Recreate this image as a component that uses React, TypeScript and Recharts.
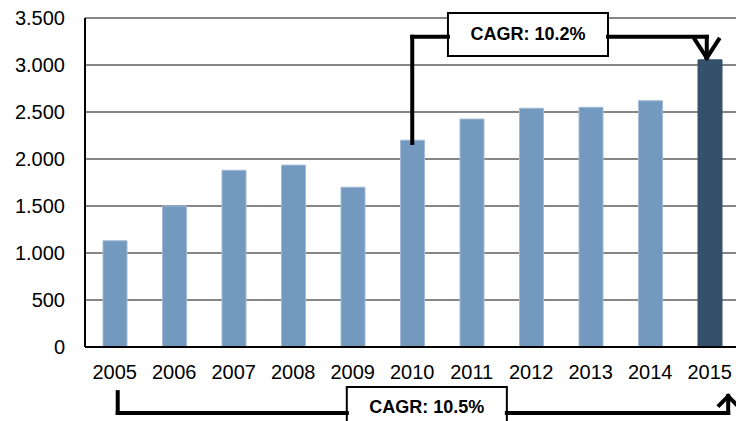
import {
  Bar,
  BarChart,
  CartesianGrid,
  Cell,
  ReferenceArea,
  ReferenceLine,
  XAxis,
  YAxis,
} from 'recharts';

// Jahreswerte 2005–2015, letzter Balken hervorgehoben, mit zwei CAGR-Klammern.

const years = [2005, 2006, 2007, 2008, 2009, 2010, 2011, 2012, 2013, 2014, 2015];
const values = [1130, 1500, 1880, 1935, 1700, 2200, 2425, 2540, 2550, 2620, 3055];
const yTicks = [0, 500, 1000, 1500, 2000, 2500, 3000, 3500];

const cagrShort = 'CAGR: 10.2%';
const cagrLong = 'CAGR: 10.5%';

const LIGHT = '#7399BF';
const DARK = '#34506B';
const FONT = '"Liberation Sans", Arial, sans-serif';

const data = years.map((year, i) => ({ year, value: values[i] }));

// Klammern in Datenkoordinaten (x = Jahr, y = Wert)
type Pt = { x: number; y: number };
const topBracketLeft: Pt[] = [
  { x: 2010, y: 2170 },
  { x: 2010, y: 3300 },
  { x: 2010.6, y: 3300 },
];
const topBracketRight: Pt[] = [
  { x: 2013.29, y: 3300 },
  { x: 2014.95, y: 3300 },
  { x: 2014.95, y: 3080 },
];
const topArrow: Pt[] = [
  { x: 2014.75, y: 3270 },
  { x: 2014.95, y: 3075 },
  { x: 2015.15, y: 3270 },
];
const bottomBracketLeft: Pt[] = [
  { x: 2005.05, y: -480 },
  { x: 2005.05, y: -702 },
  { x: 2008.9, y: -702 },
];
const bottomBracketRight: Pt[] = [
  { x: 2011.59, y: -702 },
  { x: 2015.31, y: -702 },
  { x: 2015.31, y: -520 },
];
const bottomArrow: Pt[] = [
  { x: 2015.16, y: -620 },
  { x: 2015.31, y: -525 },
  { x: 2015.46, y: -620 },
];

const fmtThousands = (v: number) =>
  v >= 1000 ? `${Math.floor(v / 1000)}.${String(v % 1000).padStart(3, '0')}` : String(v);

function polyline(points: Pt[], key: string) {
  return points.slice(1).map((p, i) => (
    <ReferenceLine
      key={`${key}-${i}`}
      segment={[
        { x: points[i].x, y: points[i].y },
        { x: p.x, y: p.y },
      ]}
      stroke="#000"
      strokeWidth={4}
      strokeLinecap="square"
      ifOverflow="visible"
    />
  ));
}

function boxLabel(text: string) {
  return ({ viewBox }: any) => (
    <text
      x={viewBox.x + viewBox.width / 2}
      y={viewBox.y + viewBox.height / 2}
      textAnchor="middle"
      dominantBaseline="central"
      fontFamily={FONT}
      fontWeight="bold"
      fontSize={18}
      fill="#000"
    >
      {text}
    </text>
  );
}

export default function App() {
  return (
    <div
      style={{
        position: 'absolute',
        left: 0,
        top: 0,
        width: 736,
        height: 421,
        overflow: 'hidden',
        background: '#fff',
      }}
    >
      <BarChart
        width={745}
        height={421}
        data={data}
        margin={{ top: 18, right: 5.5, bottom: 44, left: 0 }}
        style={{ fontFamily: FONT }}
      >
        <CartesianGrid vertical={false} stroke="#868686" strokeWidth={2} />
        <XAxis
          dataKey="year"
          type="number"
          domain={[2004.5, 2015.5]}
          ticks={years}
          allowDecimals
          height={30}
          tickLine={false}
          tickMargin={12}
          axisLine={{ stroke: '#000', strokeWidth: 2 }}
          tick={{ fill: '#000', fontSize: 20, fontFamily: FONT }}
        />
        <YAxis
          domain={[0, 3500]}
          ticks={yTicks}
          width={85}
          tickLine={false}
          tickMargin={14}
          tickFormatter={fmtThousands}
          axisLine={{ stroke: '#000', strokeWidth: 2 }}
          tick={{ fill: '#000', fontSize: 20, fontFamily: FONT }}
        />
        <Bar dataKey="value" barSize={24} isAnimationActive={false}>
          {data.map((d, i) => (
            <Cell
              key={d.year}
              fill={i === data.length - 1 ? DARK : LIGHT}
              stroke={i === data.length - 1 ? DARK : '#A3BBD6'}
              strokeWidth={1}
            />
          ))}
        </Bar>
        {polyline(topBracketLeft, 'tl')}
        {polyline(topBracketRight, 'tr')}
        {polyline(topArrow, 'ta')}
        {polyline(bottomBracketLeft, 'bl')}
        {polyline(bottomBracketRight, 'br')}
        {polyline(bottomArrow, 'ba')}
        <ReferenceArea
          x1={2010.6}
          x2={2013.29}
          y1={3096}
          y2={3553}
          fill="#fff"
          fillOpacity={1}
          stroke="#000"
          strokeWidth={2}
          ifOverflow="visible"
          label={boxLabel(cagrShort)}
        />
        <ReferenceArea
          x1={2008.9}
          x2={2011.59}
          y1={-850}
          y2={-426}
          fill="#fff"
          fillOpacity={1}
          stroke="#000"
          strokeWidth={2}
          ifOverflow="visible"
          label={boxLabel(cagrLong)}
        />
      </BarChart>
    </div>
  );
}
